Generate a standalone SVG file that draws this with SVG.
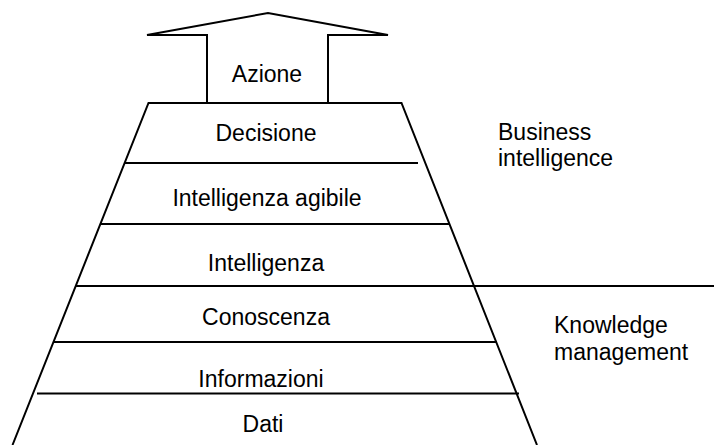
<svg xmlns="http://www.w3.org/2000/svg" width="714" height="445" viewBox="0 0 714 445">
  <style>
    .ln { fill: none; stroke: #000; stroke-width: 2; stroke-linejoin: miter; }
    .lbl { font-family: "Liberation Sans", Arial, sans-serif; font-size: 23px; fill: #000; }
    .mid { text-anchor: middle; }
  </style>
  <rect width="714" height="445" fill="#fff"/>

  <!-- Action arrow on top of the pyramid -->
  <g id="azione">
    <polygon class="ln" points="207,103 207,35 147,35 268,13 388,35 328,35 328,103"/>
    <text class="lbl mid" x="267" y="82">Azione</text>
  </g>

  <!-- Pyramid outline -->
  <g id="pyramid">
    <polyline class="ln" points="12.5,445 148.5,103 401.5,103 537,445"/>
  </g>

  <!-- Layer separators -->
  <g id="connectors">
    <line class="ln" x1="125" y1="163" x2="418" y2="163"/>
    <line class="ln" x1="100" y1="224" x2="450" y2="224"/>
    <line class="ln" x1="76" y1="286" x2="714" y2="286"/>
    <line class="ln" x1="53" y1="342" x2="497" y2="342"/>
    <line class="ln" x1="37" y1="393.5" x2="519" y2="393.5"/>
  </g>

  <!-- Pyramid layers -->
  <g id="decisione"><text class="lbl mid" x="266" y="141">Decisione</text></g>
  <g id="intelligenza-agibile"><text class="lbl mid" x="267" y="206">Intelligenza agibile</text></g>
  <g id="intelligenza"><text class="lbl mid" x="266" y="271">Intelligenza</text></g>
  <g id="conoscenza"><text class="lbl mid" x="266" y="325">Conoscenza</text></g>
  <g id="informazioni"><text class="lbl mid" x="261" y="387">Informazioni</text></g>
  <g id="dati"><text class="lbl mid" x="263" y="432">Dati</text></g>

  <!-- Side labels -->
  <g id="business-intelligence">
    <text class="lbl" x="498" y="140">Business</text>
    <text class="lbl" x="498" y="166">intelligence</text>
  </g>
  <g id="knowledge-management">
    <text class="lbl" x="554" y="333">Knowledge</text>
    <text class="lbl" x="554" y="360">management</text>
  </g>
</svg>
